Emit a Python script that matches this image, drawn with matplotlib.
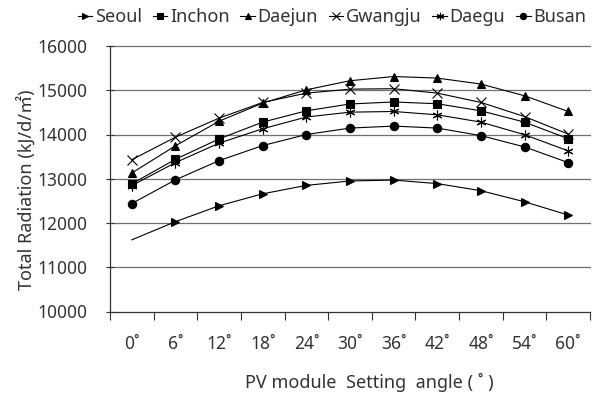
import matplotlib
matplotlib.use("Agg")
import matplotlib.pyplot as plt
import numpy as np

angles = ["0˚", "6˚", "12˚", "18˚", "24˚", "30˚", "36˚", "42˚", "48˚", "54˚", "60˚"]
seoul = [11620, 12030, 12390, 12660, 12850, 12950, 12970, 12890, 12730, 12480, 12180]
inchon = [12885, 13440, 13900, 14280, 14535, 14690, 14735, 14695, 14535, 14280, 13905]
daejun = [13130, 13745, 14300, 14710, 15010, 15215, 15310, 15275, 15140, 14875, 14520]
gwangju = [13430, 13940, 14370, 14725, 14935, 15025, 15035, 14935, 14725, 14405, 14010]
daegu = [12845, 13365, 13805, 14130, 14395, 14505, 14520, 14445, 14280, 13995, 13630]
busan = [12440, 12975, 13410, 13750, 14000, 14145, 14190, 14145, 13975, 13720, 13365]

names = ["Seoul", "Inchon", "Daejun", "Gwangju", "Daegu", "Busan"]
series = [seoul, inchon, daejun, gwangju, daegu, busan]
markers = [">", "s", "^", "x", (6, 2, 0), "o"]
msizes = [6, 6, 6, 7, 7, 6]

plt.rcParams['font.family'] = ['Noto Sans', 'Noto Sans CJK KR', 'DejaVu Sans']
txt = '#333333'

fig = plt.figure(figsize=(5.92, 3.94), dpi=100)
ax = fig.add_axes([110/592, 1-311.5/394, 480/592, 265.5/394])

x = np.arange(len(angles))
handles = []
for name, vals, m, ms in zip(names, series, markers, msizes):
    line, = ax.plot(x, vals, color='black', lw=0.8, marker=m, markersize=ms,
                    markerfacecolor='black', markeredgecolor='black', mew=0.8,
                    label=name)
    if name == "Seoul":
        line.set_markevery(list(range(1, len(angles))))
    handles.append(line)

ax.set_xlim(-0.5, len(angles) - 0.5)
ax.set_ylim(10000, 16000)
ax.set_yticks(np.arange(10000, 16001, 1000))
ax.set_xticks(x)
ax.set_xticklabels(angles)
ax.set_xticks(np.arange(-0.5, len(angles), 1.0), minor=True)
ax.tick_params(axis='x', which='major', length=0, pad=17, labelsize=12.5, labelcolor=txt)
ax.tick_params(axis='x', which='minor', length=6, direction='out', width=0.8, color='#333333')
ax.tick_params(axis='y', length=6, width=0.8, pad=13, labelsize=12.5, labelcolor=txt,
               direction='inout', color='#333333')

for s in ['top', 'right']:
    ax.spines[s].set_visible(False)
for s in ['left', 'bottom']:
    ax.spines[s].set_linewidth(0.9)
    ax.spines[s].set_color('#333333')

for v in range(11000, 16001, 1000):
    ax.axhline(v, color='#707070', lw=0.9, zorder=0.5, clip_on=False)

ax.set_ylabel("Total Radiation (kJ/d/㎡)", fontsize=13, color=txt)
ax.yaxis.set_label_coords(-(110 - 26) / 480, (311.5 - 190) / 265.5)
ax.yaxis.label.set_va('center')
ax.set_xlabel("PV module  Setting  angle ( ˚ )", fontsize=13, color=txt)
ax.xaxis.set_label_coords((369 - 110) / 480, -(382 - 311.5) / 265.5)
ax.xaxis.label.set_va('center')

fig.legend(handles=handles, labels=names, loc='center', ncol=6,
           bbox_to_anchor=(332/592, 1-17/394), frameon=False, fontsize=13,
           handlelength=0.8, handletextpad=0.15, columnspacing=0.6, labelcolor=txt,
           markerscale=0.75, borderaxespad=0, borderpad=0)

fig.savefig("out.png", dpi=100)
